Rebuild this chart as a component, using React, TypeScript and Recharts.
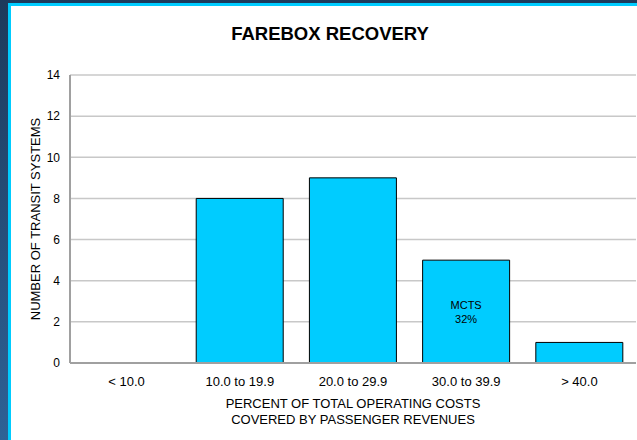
import { Bar, BarChart, CartesianGrid, Label, LabelList, XAxis, YAxis } from "recharts";

const RANGES = ["< 10.0", "10.0 to 19.9", "20.0 to 29.9", "30.0 to 39.9", "> 40.0"];
const SYSTEMS = [0, 8, 9, 5, 1];
const NOTES = ["", "", "", "MCTS\n32%", ""];
const Y_TICKS = [0, 2, 4, 6, 8, 10, 12, 14];

const data = RANGES.map((range, i) => ({ range, systems: SYSTEMS[i], note: NOTES[i] }));

const FONT = "'Liberation Sans', Arial, sans-serif";

function NoteLabel(props: any) {
  const { x, y, width, value } = props;
  if (!value) return null;
  const lines = String(value).split("\n");
  return (
    <text x={x + width / 2} y={y + 49} textAnchor="middle" fontSize={11} fontFamily={FONT} fill="#000">
      {lines.map((l, i) => (
        <tspan key={i} x={x + width / 2} dy={i === 0 ? 0 : 14}>
          {l}
        </tspan>
      ))}
    </text>
  );
}

function YTitle(props: any) {
  const vb = props.viewBox;
  const cx = vb.x + 25;
  const cy = vb.y + vb.height / 2;
  return (
    <text x={cx} y={cy} transform={`rotate(-90, ${cx}, ${cy})`} textAnchor="middle" dominantBaseline="central" fontSize={13} fontFamily={FONT} fill="#000">
      NUMBER OF TRANSIT SYSTEMS
    </text>
  );
}

function XTitle(props: any) {
  const vb = props.viewBox;
  const cx = vb.x + vb.width / 2;
  return (
    <text x={cx} y={vb.y + 45} textAnchor="middle" fontSize={13} fontFamily={FONT} fill="#000">
      <tspan x={cx}>PERCENT OF TOTAL OPERATING COSTS</tspan>
      <tspan x={cx} dy={16}>COVERED BY PASSENGER REVENUES</tspan>
    </text>
  );
}

export default function App() {
  return (
    <div
      style={{
        position: "absolute",
        left: 0,
        top: 0,
        width: 637,
        height: 440,
        overflow: "hidden",
        background: "linear-gradient(#1d3a5b, #2e6296)",
        fontFamily: FONT,
      }}
    >
      <div
        style={{
          position: "absolute",
          left: 8,
          top: 3,
          right: 0,
          bottom: 0,
          background: "#fff",
          borderLeft: "3px solid #00ccff",
          borderTop: "3px solid #00ccff",
        }}
      />
      <div
        style={{
          position: "absolute",
          left: 0,
          top: 25,
          width: 660,
          textAlign: "center",
          fontSize: 18.5,
          lineHeight: "18px",
          fontWeight: "bold",
          color: "#000",
        }}
      >
        FAREBOX RECOVERY
      </div>
      <div style={{ position: "absolute", left: 0, top: 0 }}>
        <BarChart width={637} height={440} data={data} margin={{ top: 75, right: 1, bottom: 0, left: 10 }} barCategoryGap="11.5%">
          <CartesianGrid vertical={false} stroke="#c8c8c8" strokeWidth={1.5} />
          <XAxis
            dataKey="range"
            height={77}
            tickLine={false}
            tickMargin={8}
            axisLine={{ stroke: "#a0a0a0", strokeWidth: 2 }}
            tick={{ fontSize: 13, fill: "#000", fontFamily: FONT }}
          >
            <Label content={XTitle} />
          </XAxis>
          <XAxis xAxisId="frame" dataKey="range" orientation="top" height={0} tick={false} tickLine={false} axisLine={{ stroke: "#a8a8a8", strokeWidth: 2 }} />
          <YAxis
            domain={[0, 14]}
            ticks={Y_TICKS}
            width={60}
            tickLine={false}
            tickMargin={4}
            axisLine={{ stroke: "#a0a0a0", strokeWidth: 2 }}
            tick={{ fontSize: 12, fill: "#000", fontFamily: FONT }}
          >
            <Label content={YTitle} />
          </YAxis>
          <YAxis yAxisId="frame" orientation="right" type="number" domain={[0, 14]} width={0} tick={false} tickLine={false} axisLine={{ stroke: "#d4d4d4", strokeWidth: 2 }} />
          <Bar dataKey="systems" fill="#00ccff" stroke="#000" strokeWidth={1} isAnimationActive={false}>
            <LabelList dataKey="note" content={NoteLabel} />
          </Bar>
        </BarChart>
      </div>
    </div>
  );
}
